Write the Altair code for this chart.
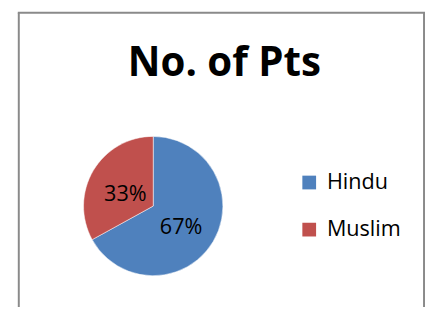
import altair as alt
import pandas as pd

categories = ["Hindu", "Muslim"]
values = [67, 33]
labels = ["67%", "33%"]
colors = ["#4F81BD", "#C0504D"]
title_text = "No. of Pts"

df = pd.DataFrame({"group": categories, "value": values, "label": labels,
                   "ord": list(range(len(categories)))})

W, H = 416, 297
X0 = 2
BW = 413
CX, CY, R = 139, 197, 71
FONT = "Open Sans"

base = alt.Chart(df).encode(
    theta=alt.Theta("value:Q", stack=True),
    order=alt.Order("ord:Q"),
)

pie = base.mark_arc(outerRadius=R, stroke="white", strokeWidth=0.5).encode(
    x=alt.value(CX), y=alt.value(CY),
    color=alt.Color(
        "group:N",
        scale=alt.Scale(domain=categories, range=colors),
        legend=alt.Legend(
            title=None, orient="none", legendX=287, legendY=162,
            symbolType="square", symbolSize=196, symbolStrokeWidth=0,
            labelFont=FONT, labelFontSize=22, labelColor="#000000",
            labelOffset=7, rowPadding=26, padding=0,
        ),
    ),
)

pct = base.mark_text(radius=33, dy=5, font=FONT, fontSize=22, color="#000000").encode(
    x=alt.value(CX), y=alt.value(CY), text="label:N"
)

title_df = pd.DataFrame({"t": [title_text]})
title = alt.Chart(title_df).mark_text(
    font=FONT, fontSize=41, fontWeight="bold", color="#000000",
    align="center", baseline="alphabetic",
).encode(x=alt.value(X0 + BW / 2 + 3), y=alt.value(64), text="t:N")

border_df = pd.DataFrame({"k": [0]})
bl = alt.Chart(border_df).mark_rule(color="#8A8A8A", strokeWidth=2).encode(
    x=alt.value(X0), y=alt.value(0), y2=alt.value(H + 10))
bt = alt.Chart(border_df).mark_rule(color="#8A8A8A", strokeWidth=2).encode(
    x=alt.value(X0 - 1), x2=alt.value(X0 + BW + 1), y=alt.value(0))
br = alt.Chart(border_df).mark_rule(color="#8A8A8A", strokeWidth=2).encode(
    x=alt.value(X0 + BW), y=alt.value(0), y2=alt.value(H + 10))

chart = alt.layer(bl, bt, br, pie, pct, title).properties(
    width=W, height=H,
    autosize=alt.AutoSizeParams(type="none"),
    padding={"left": 9, "top": 2, "right": 0, "bottom": 0},
).configure_view(stroke=None)

chart.save("out.html", embed_options={"renderer": "svg", "actions": False})
